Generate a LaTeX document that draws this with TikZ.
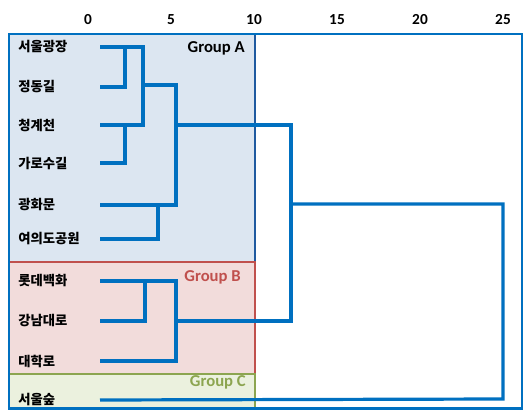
\documentclass[tikz,border=0pt]{standalone}
\usepackage{fontspec}
\setmainfont{Carlito}
\newfontfamily\krfont{Noto Sans CJK KR}
\usetikzlibrary{positioning}
\definecolor{linkblue}{RGB}{0,112,192}
\definecolor{fillA}{RGB}{220,230,241}
\definecolor{fillB}{RGB}{242,220,219}
\definecolor{fillC}{RGB}{235,241,222}
\definecolor{lineA}{RGB}{31,90,160}
\definecolor{lineB}{RGB}{192,80,77}
\definecolor{lineC}{RGB}{140,165,80}
\tikzset{
  link/.style={draw=linkblue,line width=2.4pt},
  leaf/.style={font=\krfont\bfseries\fontsize{10}{12}\selectfont,anchor=west,inner sep=0pt},
  grp/.style={font=\bfseries\fontsize{12.5}{14}\selectfont,inner sep=0pt},
  tickno/.style={font=\bfseries\fontsize{11.5}{13}\selectfont,inner sep=0pt}
}
\begin{document}
\begin{tikzpicture}[x=0.75pt,y=-0.75pt]
        \useasboundingbox (0,0) rectangle (525,410);
        %그룹 상자
            \draw [fill=fillA,draw=lineA,line width=1.5pt] (9,34) rectangle (255,262);
            \draw [fill=fillB,draw=lineB,line width=1.5pt] (9,262) rectangle (255,374);
            \draw [fill=fillC,draw=lineC,line width=1.5pt] (9,374) rectangle (255,409);
        %바깥 틀
            \draw [draw=linkblue,line width=1.6pt] (9,34) rectangle (522,408.5);
        %눈금
            \foreach \v in {0,5,...,25}
                \node [tickno] (t\v) at ({88+16.6*\v},20) {\v};
        %그룹 이름
            \node [grp,anchor=east] (gA) at (245,48) {Group A};
            \node [grp,anchor=east,text=lineB] (gB) at (241,277) {Group B};
            \node [grp,anchor=east,text=lineC] (gC) at (246,382) {Group C};
        %잎
            \node [leaf] (n1) at (18,47) {서울광장};
            \node [leaf] (n2) at (18,87) {정동길};
            \node [leaf] (n3) at (18,125) {청계천};
            \node [leaf] (n4) at (18,163) {가로수길};
            \node [leaf] (n5) at (18,205) {광화문};
            \node [leaf] (n6) at (18,239) {여의도공원};
            \node [leaf] (n7) at (18,281) {롯데백화};
            \node [leaf] (n8) at (18,321) {강남대로};
            \node [leaf] (n9) at (18,361) {대학로};
            \node [leaf] (n10) at (18,400) {서울숲};
            \foreach \i/\y in {1/47,2/87,3/125,4/163,5/205,6/239,7/281,8/321,9/361,10/400}
                \coordinate (s\i) at (100,\y);
        %병합점
            \coordinate (m12) at (125,47);
            \coordinate (m34) at (125,125);
            \coordinate (mA1) at (143,85);
            \coordinate (m56) at (158,205);
            \coordinate (mA) at (176,125);
            \coordinate (m78) at (145,281);
            \coordinate (mB) at (176,321);
            \coordinate (mAB) at (291,204);
        %덴드로그램
            \draw [link] (s1) -| (143,125) -- (s3);
            \draw [link] (s2) -| (m12);
            \draw [link] (s4) -| (m34);
            \draw [link] (mA1) -| (176,205) -- (s5);
            \draw [link] (s6) -| (m56);
            \draw [link] (s7) -| (176,361) -- (s9);
            \draw [link] (s8) -| (m78);
            \draw [link] (mA) -| (291,321) -- (mB);
            \draw [link] (mAB) -| (503,399) -- (s10);
    \end{tikzpicture}
\end{document}
